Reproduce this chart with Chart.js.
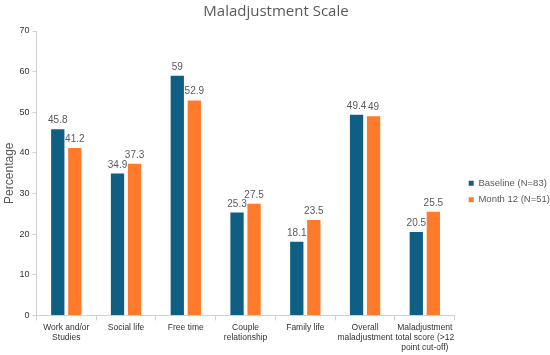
<!DOCTYPE html>
<html><head><meta charset="utf-8">
<script src="https://cdn.jsdelivr.net/npm/chart.js@4"></script>
<style>html,body{margin:0;padding:0;background:#fff}#w{width:550px;height:355px}</style>
</head><body><div id="w"><canvas id="c"></canvas></div>
<script>
const categories = [["Work and/or","Studies"],"Social life","Free time",["Couple","relationship"],"Family life",["Overall","maladjustment"],["Maladjustment","total score (>12","point cut-off)"]];
const baseline = [45.8,34.9,59,25.3,18.1,49.4,20.5];
const month12 = [41.2,37.3,52.9,27.5,23.5,49,25.5];
const yTicks = [0,10,20,30,40,50,60,70];
const gray = '#595959';
const EXTRA = -3, SHIFT_X = 7, SHIFT_Y = 14;
const labelPlugin = {
  id:'labels',
  beforeLayout(chart){
    const lg = chart.legend;
    if (lg && !lg._patched){
      const orig = lg.fit;
      lg.fit = function(){ orig.call(this); this.width += EXTRA; };
      lg._patched = true;
    }
  },
  afterLayout(chart){
    const lg = chart.legend;
    if (lg){ lg.left += SHIFT_X; lg.top += SHIFT_Y; lg.bottom += SHIFT_Y; }
  },
  afterDatasetsDraw(chart){
    const ctx = chart.ctx;
    ctx.save();
    ctx.fillStyle = gray;
    ctx.font = '10px "Liberation Sans", Arial, sans-serif';
    ctx.textAlign = 'center';
    ctx.textBaseline = 'alphabetic';
    chart.data.datasets.forEach((ds,i)=>{
      chart.getDatasetMeta(i).data.forEach((bar,j)=>{
        ctx.fillText(String(ds.data[j]), bar.x, bar.y - 6);
      });
    });
    ctx.restore();
  }
};
new Chart(document.getElementById('c'),{
  type:'bar',
  data:{labels:categories,datasets:[
    {label:'Baseline (N=83)',data:baseline,backgroundColor:'#0F5F84',categoryPercentage:0.57,barPercentage:0.78},
    {label:'Month 12 (N=51)',data:month12,backgroundColor:'#FF7A2B',categoryPercentage:0.57,barPercentage:0.78}
  ]},
  options:{
    responsive:true,maintainAspectRatio:false,animation:false,
    layout:{padding:{left:2,right:0,top:0,bottom:0}},
    plugins:{
      title:{display:true,text:'Maladjustment Scale',color:gray,font:{family:'"Open Sans", sans-serif',size:15,weight:'normal'},padding:{top:3,bottom:10}},
      legend:{position:'right',labels:{color:gray,boxWidth:5,boxHeight:5,padding:7,font:{family:'"Liberation Sans", Arial, sans-serif',size:9.5}}},
      tooltip:{enabled:false}
    },
    scales:{
      x:{grid:{display:true,drawOnChartArea:false,offset:true,tickLength:5,color:'#d0d0d0'},border:{color:'#d0d0d0'},
         ticks:{color:'#333',maxRotation:0,autoSkip:false,font:{family:'"Liberation Sans", Arial, sans-serif',size:8.5,lineHeight:1.2},padding:2}},
      y:{min:0,max:70,afterBuildTicks(ax){ax.ticks=yTicks.map(v=>({value:v}));},
         grid:{display:true,drawOnChartArea:false,tickLength:4,color:'#d0d0d0'},border:{color:'#d0d0d0'},
         ticks:{color:'#333',font:{family:'"Liberation Sans", Arial, sans-serif',size:9},padding:3},
         title:{display:true,text:'Percentage',color:gray,font:{family:'"Liberation Sans", Arial, sans-serif',size:12},padding:0}}
    }
  },
  plugins:[labelPlugin]
});
</script></body></html>
